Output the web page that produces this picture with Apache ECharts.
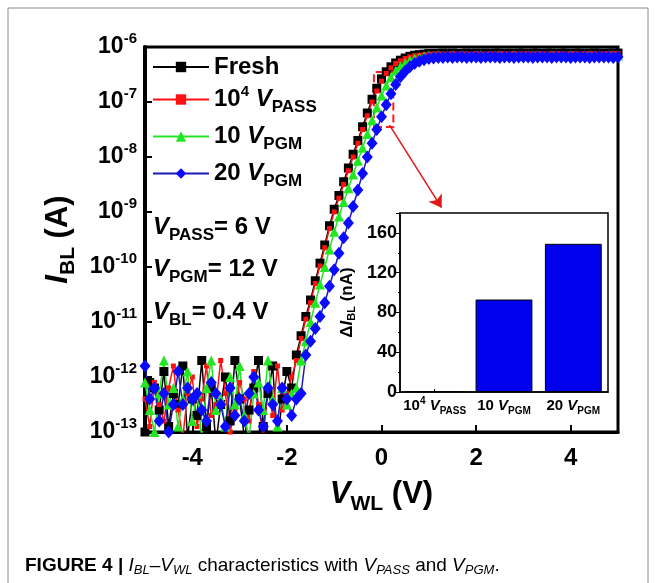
<!DOCTYPE html>
<html>
<head>
<meta charset="utf-8">
<script src="https://cdn.jsdelivr.net/npm/echarts@6/dist/echarts.min.js"></script>
<style>
  html, body { margin: 0; padding: 0; background: #fff; }
  #chart { width: 657px; height: 583px; }
</style>
</head>
<body>
<div id="chart"></div>
<script>
// word-line voltage (V)
var vwl = [
  -5.0, -4.9, -4.8, -4.7, -4.6, -4.5, -4.4, -4.3, -4.2, -4.1,
  -4.0, -3.9, -3.8, -3.7, -3.6, -3.5, -3.4, -3.3, -3.2, -3.1,
  -3.0, -2.9, -2.8, -2.7, -2.6, -2.5, -2.4, -2.3, -2.2, -2.1,
  -2.0, -1.9, -1.8, -1.7, -1.6, -1.5, -1.4, -1.3, -1.2, -1.1,
  -1.0, -0.9, -0.8, -0.7, -0.6, -0.5, -0.4, -0.3, -0.2, -0.1,
  0.0, 0.1, 0.2, 0.3, 0.4, 0.5, 0.6, 0.7, 0.8, 0.9,
  1.0, 1.1, 1.2, 1.3, 1.4, 1.5, 1.6, 1.7, 1.8, 1.9,
  2.0, 2.1, 2.2, 2.3, 2.4, 2.5, 2.6, 2.7, 2.8, 2.9,
  3.0, 3.1, 3.2, 3.3, 3.4, 3.5, 3.6, 3.7, 3.8, 3.9,
  4.0, 4.1, 4.2, 4.3, 4.4, 4.5, 4.6, 4.7, 4.8, 4.9,
  5.0
];

// log10 of I_BL (A)
var fresh = [
  -13.0, -12.1, -12.2, -12.6, -11.9, -12.9, -12.3, -12.5, -11.8, -13.1,
  -12.4, -12.7, -11.7, -12.9, -12.2, -13.2, -12.5, -12.0, -12.8, -11.7,
  -12.4, -13.1, -12.6, -12.2, -11.7, -12.9, -12.3, -11.8, -13.2, -12.4,
  -11.9, -12.2, -11.6, -11.25, -10.9, -10.6, -10.25, -9.93, -9.6, -9.25,
  -8.95, -8.7, -8.45, -8.2, -7.95, -7.7, -7.45, -7.2, -6.95, -6.75,
  -6.58, -6.45, -6.36, -6.29, -6.24, -6.2, -6.17, -6.15, -6.14, -6.13,
  -6.12, -6.12, -6.12, -6.11, -6.12, -6.11, -6.12, -6.12, -6.11, -6.12,
  -6.11, -6.12, -6.11, -6.12, -6.11, -6.11, -6.12, -6.11, -6.12, -6.11,
  -6.11, -6.12, -6.11, -6.11, -6.12, -6.11, -6.11, -6.12, -6.11, -6.11,
  -6.12, -6.11, -6.11, -6.12, -6.11, -6.11, -6.11, -6.12, -6.11, -6.11,
  -6.11
];
var pass1e4 = [
  -12.4, -12.9, -12.1, -12.5, -12.8, -12.2, -11.8, -12.6, -13.1, -12.3,
  -12.0, -12.9, -12.4, -11.8, -12.7, -12.5, -11.7, -12.3, -13.0, -12.6,
  -12.1, -12.4, -12.8, -11.9, -12.5, -13.1, -12.2, -12.7, -11.8, -12.6,
  -12.3, -12.0, -11.7, -11.3, -10.95, -10.65, -10.3, -9.98, -9.65, -9.3,
  -9.0, -8.75, -8.5, -8.25, -8.0, -7.75, -7.5, -7.25, -7.0, -6.8,
  -6.62, -6.48, -6.38, -6.3, -6.25, -6.21, -6.18, -6.16, -6.15, -6.14,
  -6.13, -6.13, -6.12, -6.13, -6.13, -6.12, -6.13, -6.12, -6.13, -6.13,
  -6.12, -6.13, -6.13, -6.12, -6.13, -6.12, -6.12, -6.13, -6.12, -6.13,
  -6.12, -6.12, -6.13, -6.12, -6.12, -6.13, -6.12, -6.12, -6.12, -6.13,
  -6.12, -6.12, -6.13, -6.12, -6.12, -6.12, -6.13, -6.12, -6.12, -6.12,
  -6.12
];
var pgm10 = [
  -12.1, -12.6, -13.0, -12.3, -11.7, -12.5, -12.2, -12.9, -12.4, -11.9,
  -12.8, -12.3, -13.1, -12.2, -11.7, -12.6, -12.4, -12.9, -12.0, -12.5,
  -11.8, -12.7, -13.1, -12.3, -12.1, -12.6, -11.7, -12.4, -12.9, -12.2,
  -12.5, -12.3, -12.2, -11.7, -11.35, -11.0, -10.65, -10.32, -10.0, -9.68,
  -9.36, -9.08, -8.82, -8.57, -8.32, -8.07, -7.83, -7.58, -7.33, -7.1,
  -6.88, -6.7, -6.55, -6.43, -6.35, -6.29, -6.24, -6.21, -6.19, -6.17,
  -6.16, -6.16, -6.15, -6.16, -6.15, -6.15, -6.16, -6.15, -6.15, -6.16,
  -6.15, -6.15, -6.16, -6.15, -6.15, -6.15, -6.16, -6.15, -6.15, -6.15,
  -6.16, -6.15, -6.15, -6.15, -6.16, -6.15, -6.15, -6.15, -6.16, -6.15,
  -6.15, -6.15, -6.16, -6.15, -6.15, -6.15, -6.15, -6.16, -6.15, -6.15,
  -6.15
];
var pgm20 = [
  -11.8, -12.4, -12.2, -12.8, -12.3, -13.0, -12.5, -11.9, -12.5, -12.2,
  -12.4, -12.3, -12.6, -12.8, -12.1, -12.3, -12.5, -12.9, -12.2, -12.7,
  -12.4, -12.8, -12.3, -12.0, -12.6, -12.9, -12.2, -12.5, -12.8, -12.2,
  -12.4, -12.7, -12.4, -12.3, -11.6, -11.35, -11.12, -10.9, -10.65, -10.35,
  -10.05, -9.75, -9.47, -9.2, -8.9, -8.6, -8.3, -8.0, -7.75, -7.5,
  -7.27, -7.05, -6.85, -6.68, -6.54, -6.44, -6.36, -6.3, -6.26, -6.23,
  -6.21, -6.2, -6.19, -6.19, -6.18, -6.19, -6.18, -6.18, -6.19, -6.18,
  -6.18, -6.19, -6.18, -6.18, -6.18, -6.19, -6.18, -6.18, -6.19, -6.18,
  -6.18, -6.18, -6.19, -6.18, -6.18, -6.18, -6.19, -6.18, -6.18, -6.18,
  -6.19, -6.18, -6.18, -6.18, -6.19, -6.18, -6.18, -6.18, -6.18, -6.19,
  -6.18
];

var seriesNames = ['Fresh', '10^4 V_PASS', '10 V_PGM', '20 V_PGM'];
var xTickValues = [-4, -2, 0, 2, 4];

// inset: delta I_BL (nA)
var insetCats = ['10^4 V_PASS', '10 V_PGM', '20 V_PGM'];
var deltaIbl = [1, 93, 149];

// zoom box and arrow (data coordinates)
var zoomBox = [-0.16, 0.25, 3.5e-8, 3.5e-7];
var arrowFrom = [0.17, 3.8e-8];
var arrowTo = [1.27, 1.2e-9];

var FONT = '"Liberation Sans", Arial, sans-serif';
var NARROW = '"Liberation Sans Narrow", "Liberation Sans", Arial, sans-serif';

var richText = {
  '10^4 V_PASS': '{n|10}{sup|4}{n| }{v|V}{sub|PASS}',
  '10 V_PGM': '{n|10 }{v|V}{sub|PGM}',
  '20 V_PGM': '{n|20 }{v|V}{sub|PGM}',
  'Fresh': '{n|Fresh}'
};

var bigRich = {
  n: { fontFamily: FONT, fontSize: 24, fontWeight: 'bold', color: '#000', lineHeight: 34 },
  v: { fontFamily: FONT, fontSize: 24, fontWeight: 'bold', fontStyle: 'italic', color: '#000', lineHeight: 34 },
  sup: { fontFamily: FONT, fontSize: 15, fontWeight: 'bold', color: '#000', lineHeight: 15, padding: [0, 0, 16, 0] },
  sub: { fontFamily: FONT, fontSize: 17, fontWeight: 'bold', color: '#000', lineHeight: 17, padding: [16, 0, 0, 0] }
};

var smallRich = {
  n: { fontFamily: FONT, fontSize: 15, fontWeight: 'bold', color: '#000', lineHeight: 20 },
  v: { fontFamily: FONT, fontSize: 15, fontWeight: 'bold', fontStyle: 'italic', color: '#000', lineHeight: 20 },
  sup: { fontFamily: FONT, fontSize: 10, fontWeight: 'bold', color: '#000', lineHeight: 10, padding: [0, 0, 10, 0] },
  sub: { fontFamily: FONT, fontSize: 10, fontWeight: 'bold', color: '#000', lineHeight: 10, padding: [10, 0, 0, 0] }
};

function toPoints(arr) {
  return arr.map(function (e, i) {
    return [vwl[i], Math.pow(10, e)];
  });
}

var chart = echarts.init(document.getElementById('chart'), null, { renderer: 'canvas' });

var option = {
  backgroundColor: '#fff',
  animation: false,
  graphic: [
    {
      type: 'rect',
      shape: { x: 8, y: 8, width: 640, height: 600 },
      style: { fill: 'none', stroke: '#8a8a8a', lineWidth: 1 },
      silent: true
    },
    {
      type: 'text', left: 153, top: 211, z: 10,
      style: { text: '{v|V}{sub|PASS}{n|= 6 V}', rich: bigRich }
    },
    {
      type: 'text', left: 153, top: 253, z: 10,
      style: { text: '{v|V}{sub|PGM}{n|= 12 V}', rich: bigRich }
    },
    {
      type: 'text', left: 153, top: 296, z: 10,
      style: { text: '{v|V}{sub|BL}{n|= 0.4 V}', rich: bigRich }
    },
    {
      type: 'text', left: 25, top: 554,
      style: {
        text: '{b|FIGURE 4 | }{i|I}{is|BL}{r|\u2013}{i|V}{is|WL}{r| characteristics with }{i|V}{is|PASS}{r| and }{i|V}{is|PGM}{r|.}',
        rich: {
          b: { fontFamily: NARROW, fontSize: 19, fontWeight: 'bold', color: '#222', lineHeight: 24 },
          r: { fontFamily: NARROW, fontSize: 19, color: '#222', lineHeight: 24 },
          i: { fontFamily: NARROW, fontSize: 19, fontStyle: 'italic', color: '#222', lineHeight: 24 },
          is: { fontFamily: NARROW, fontSize: 13, fontStyle: 'italic', color: '#222', lineHeight: 13, padding: [10, 0, 0, 0] }
        }
      }
    }
  ],
  legend: {
    data: seriesNames,
    orient: 'vertical',
    left: 152,
    top: 55,
    itemWidth: 56,
    itemHeight: 13,
    itemGap: 4,
    padding: 0,
    selectedMode: false,
    formatter: function (name) {
      return richText[name];
    },
    textStyle: { rich: bigRich }
  },
  grid: [
    { left: 145, top: 47, width: 473, height: 385, show: true, borderColor: '#000', borderWidth: 3 },
    { left: 400, top: 213, width: 208, height: 179, show: true, backgroundColor: '#fff', borderColor: '#000', borderWidth: 1.5 }
  ],
  xAxis: [
    {
      type: 'value',
      gridIndex: 0,
      min: -5,
      max: 5,
      interval: 1,
      axisLine: { show: true, onZero: false, lineStyle: { color: '#000', width: 3 } },
      axisTick: { show: true, inside: true, length: 7, customValues: xTickValues, lineStyle: { color: '#000', width: 2 } },
      axisLabel: {
        customValues: xTickValues,
        margin: 14,
        color: '#000',
        fontFamily: FONT,
        fontSize: 24,
        fontWeight: 'bold'
      },
      splitLine: { show: false },
      name: '{v|V}{sub|WL}{n| (V)}',
      nameLocation: 'middle',
      nameGap: 31,
      nameTextStyle: {
        rich: {
          n: { fontFamily: FONT, fontSize: 31, fontWeight: 'bold', color: '#000', lineHeight: 40 },
          v: { fontFamily: FONT, fontSize: 31, fontWeight: 'bold', fontStyle: 'italic', color: '#000', lineHeight: 40 },
          sub: { fontFamily: FONT, fontSize: 21, fontWeight: 'bold', color: '#000', lineHeight: 21, padding: [19, 0, 0, 0] }
        }
      }
    },
    {
      type: 'category',
      gridIndex: 1,
      data: insetCats,
      axisLine: { show: true, onZero: false, lineStyle: { color: '#000', width: 1.5 } },
      axisTick: { show: true, inside: true, alignWithLabel: true, length: 3, lineStyle: { color: '#000' } },
      axisLabel: {
        interval: 0,
        margin: 4,
        formatter: function (v) { return richText[v]; },
        rich: smallRich
      },
      splitLine: { show: false }
    }
  ],
  yAxis: [
    {
      type: 'log',
      gridIndex: 0,
      logBase: 10,
      min: 1e-13,
      max: 1e-6,
      axisLine: { show: true, onZero: false, lineStyle: { color: '#000', width: 4 } },
      axisTick: { show: true, inside: true, length: 7, lineStyle: { color: '#000', width: 2 } },
      axisLabel: {
        margin: 8,
        formatter: function (v) {
          var e = Math.round(Math.log(v) / Math.LN10);
          return '{b|10}{e|' + e + '}';
        },
        rich: {
          b: { fontFamily: FONT, fontSize: 23, fontWeight: 'bold', color: '#000', lineHeight: 26 },
          e: { fontFamily: FONT, fontSize: 15, fontWeight: 'bold', color: '#000', lineHeight: 15, padding: [0, 0, 16, 0] }
        }
      },
      splitLine: { show: false },
      name: '{v|I}{sub|BL}{n| (A)}',
      nameLocation: 'middle',
      nameRotate: 90,
      nameGap: 66,
      nameTextStyle: {
        rich: {
          n: { fontFamily: FONT, fontSize: 31, fontWeight: 'bold', color: '#000', lineHeight: 40 },
          v: { fontFamily: FONT, fontSize: 31, fontWeight: 'bold', fontStyle: 'italic', color: '#000', lineHeight: 40 },
          sub: { fontFamily: FONT, fontSize: 21, fontWeight: 'bold', color: '#000', lineHeight: 21, padding: [19, 0, 0, 0] }
        }
      }
    },
    {
      type: 'value',
      gridIndex: 1,
      min: 0,
      max: 180,
      interval: 40,
      axisLine: { show: true, onZero: false, lineStyle: { color: '#000', width: 1.5 } },
      axisTick: { show: true, length: 4, lineStyle: { color: '#000' } },
      minorTick: { show: true, splitNumber: 2, length: 2, lineStyle: { color: '#000' } },
      axisLabel: {
        showMaxLabel: false,
        margin: 3,
        color: '#000',
        fontFamily: FONT,
        fontSize: 18,
        fontWeight: 'bold'
      },
      splitLine: { show: false },
      name: '{n|\u0394}{v|I}{sub|BL}{n| (nA)}',
      nameLocation: 'middle',
      nameRotate: 90,
      nameGap: 42,
      nameTextStyle: {
        rich: {
          n: { fontFamily: FONT, fontSize: 17, fontWeight: 'bold', color: '#000', lineHeight: 22 },
          v: { fontFamily: FONT, fontSize: 17, fontWeight: 'bold', fontStyle: 'italic', color: '#000', lineHeight: 22 },
          sub: { fontFamily: FONT, fontSize: 11, fontWeight: 'bold', color: '#000', lineHeight: 11, padding: [10, 0, 0, 0] }
        }
      }
    }
  ],
  series: [
    {
      name: seriesNames[0],
      type: 'line',
      xAxisIndex: 0,
      yAxisIndex: 0,
      data: toPoints(fresh),
      symbol: 'rect',
      symbolSize: 9,
      itemStyle: { color: '#000' },
      lineStyle: { color: '#000', width: 1.5 }
    },
    {
      name: seriesNames[1],
      type: 'line',
      xAxisIndex: 0,
      yAxisIndex: 0,
      data: toPoints(pass1e4),
      symbol: 'rect',
      symbolSize: 5,
      itemStyle: { color: '#ff1010' },
      lineStyle: { color: '#ff1010', width: 1.5 },
      markArea: {
        silent: true,
        label: { show: false },
        itemStyle: { color: 'rgba(0,0,0,0)', borderColor: '#ff2020', borderWidth: 2, borderType: 'dashed' },
        data: [[{ xAxis: zoomBox[0], yAxis: zoomBox[2] }, { xAxis: zoomBox[1], yAxis: zoomBox[3] }]]
      },
      markLine: {
        silent: true,
        symbol: ['none', 'arrow'],
        symbolSize: 12,
        label: { show: false },
        lineStyle: { color: '#e01818', width: 1.5, type: 'solid' },
        data: [[{ coord: arrowFrom }, { coord: arrowTo }]]
      }
    },
    {
      name: seriesNames[2],
      type: 'line',
      xAxisIndex: 0,
      yAxisIndex: 0,
      data: toPoints(pgm10),
      symbol: 'triangle',
      symbolSize: 10,
      itemStyle: { color: '#22e622' },
      lineStyle: { color: '#22e622', width: 1.5 }
    },
    {
      name: seriesNames[3],
      type: 'line',
      xAxisIndex: 0,
      yAxisIndex: 0,
      data: toPoints(pgm20),
      symbol: 'diamond',
      symbolSize: [11, 13],
      itemStyle: { color: '#0a0aff' },
      lineStyle: { color: '#1a1ab8', width: 1.5 }
    },
    {
      name: 'delta',
      type: 'bar',
      xAxisIndex: 1,
      yAxisIndex: 1,
      data: deltaIbl,
      barWidth: '82%',
      itemStyle: { color: '#0000ee', borderColor: '#000', borderWidth: 1 }
    }
  ]
};

chart.setOption(option);
</script>
</body>
</html>
